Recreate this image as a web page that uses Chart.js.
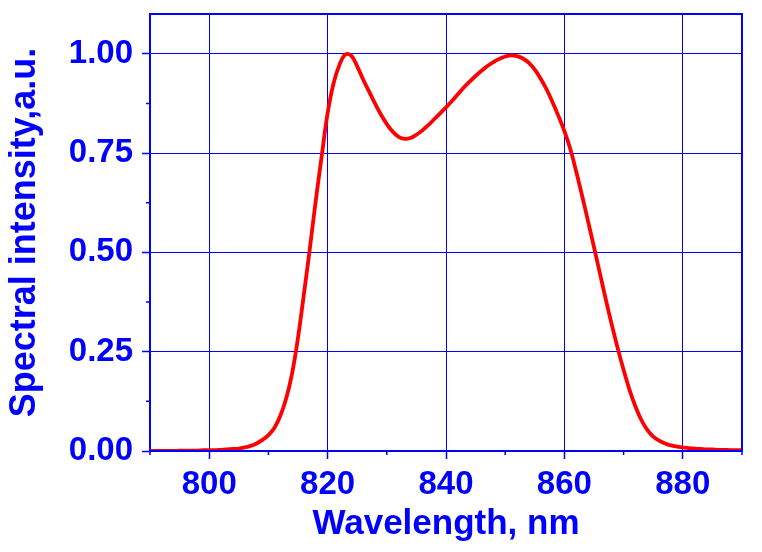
<!DOCTYPE html>
<html>
<head>
<meta charset="utf-8">
<script src="https://cdn.jsdelivr.net/npm/chart.js@4/dist/chart.umd.min.js"></script>
<style>
  html, body { margin: 0; padding: 0; background: #fff; }
  #wrap { width: 762px; height: 552px; }
</style>
</head>
<body>
<div id="wrap"><canvas id="spec"></canvas></div>
<script>
const BLUE = "#0000FF";

// wavelength, nm (1 nm step)
const wavelengths = [
  790, 791, 792, 793, 794, 795, 796, 797, 798, 799,
  800, 801, 802, 803, 804, 805, 806, 807, 808, 809,
  810, 811, 812, 813, 814, 815, 816, 817, 818, 819,
  820, 821, 822, 823, 824, 825, 826, 827, 828, 829,
  830, 831, 832, 833, 834, 835, 836, 837, 838, 839,
  840, 841, 842, 843, 844, 845, 846, 847, 848, 849,
  850, 851, 852, 853, 854, 855, 856, 857, 858, 859,
  860, 861, 862, 863, 864, 865, 866, 867, 868, 869,
  870, 871, 872, 873, 874, 875, 876, 877, 878, 879,
  880, 881, 882, 883, 884, 885, 886, 887, 888, 889,
  890
];

// spectral intensity, a.u.
const intensity = [
  0.000, 0.000, 0.000, 0.000, 0.000, 0.001, 0.001, 0.001, 0.001, 0.002,
  0.002, 0.002, 0.003, 0.004, 0.005, 0.006, 0.009, 0.013, 0.019, 0.028,
  0.040, 0.058, 0.088, 0.132, 0.195, 0.285, 0.395, 0.510, 0.630, 0.742,
  0.850, 0.925, 0.972, 0.998, 0.995, 0.968, 0.935, 0.905, 0.875, 0.847,
  0.823, 0.804, 0.791, 0.786, 0.788, 0.796, 0.807, 0.820, 0.835, 0.850,
  0.865, 0.881, 0.898, 0.915, 0.930, 0.944, 0.957, 0.969, 0.979, 0.987,
  0.993, 0.996, 0.994, 0.988, 0.977, 0.960, 0.937, 0.910, 0.878, 0.843,
  0.805, 0.760, 0.703, 0.642, 0.578, 0.513, 0.447, 0.381, 0.318, 0.259,
  0.204, 0.154, 0.112, 0.078, 0.053, 0.036, 0.026, 0.019, 0.014, 0.011,
  0.009, 0.007, 0.006, 0.005, 0.004, 0.004, 0.003, 0.003, 0.002, 0.002,
  0.002
];

const xTicks = [800, 820, 840, 860, 880];
const xMinorTicks = [790, 810, 830, 850, 870, 890];
const yTicks = [0, 0.25, 0.5, 0.75, 1.0];
const yTickLabels = ["0.00", "0.25", "0.50", "0.75", "1.00"];
const yMinorTicks = [0.125, 0.375, 0.625, 0.875];

const FONT = "'Liberation Sans', Arial, sans-serif";

// frame round the plot area plus the short minor ticks
const frameAndMinor = {
  id: "frameAndMinor",
  afterDraw(chart) {
    const { ctx, chartArea: a, scales } = chart;
    ctx.save();
    ctx.strokeStyle = BLUE;
    ctx.lineWidth = 1.5;
    ctx.beginPath();
    xMinorTicks.forEach(v => {
      const px = scales.x.getPixelForValue(v);
      ctx.moveTo(px, a.bottom);
      ctx.lineTo(px, a.bottom + 4);
    });
    yMinorTicks.forEach(v => {
      const py = scales.y.getPixelForValue(v);
      ctx.moveTo(a.left, py);
      ctx.lineTo(a.left - 4, py);
    });
    ctx.stroke();
    ctx.lineWidth = 2;
    ctx.strokeRect(a.left, a.top, a.right - a.left, a.bottom - a.top);
    ctx.restore();
  }
};

new Chart(document.getElementById("spec"), {
  type: "line",
  data: {
    datasets: [{
      data: wavelengths.map((w, i) => ({ x: w, y: intensity[i] })),
      borderColor: "#FF0000",
      borderWidth: 3.8,
      pointRadius: 0,
      tension: 0.4,
      fill: false,
    }],
  },
  options: {
    responsive: true,
    maintainAspectRatio: false,
    animation: false,
    layout: { padding: { top: 14, right: 20, left: 0, bottom: 0 } },
    plugins: { legend: { display: false }, tooltip: { enabled: false } },
    scales: {
      x: {
        type: "linear",
        min: 790,
        max: 890,
        afterBuildTicks: s => { s.ticks = xTicks.map(v => ({ value: v })); },
        afterFit: s => { s.height = 101; s.paddingLeft = 0; s.paddingRight = 0; },
        grid: { color: BLUE, lineWidth: 1, tickLength: 8, tickColor: BLUE, tickWidth: 1.5 },
        border: { display: false },
        ticks: {
          color: BLUE,
          padding: 6,
          maxRotation: 0,
          autoSkip: false,
          font: { family: FONT, size: 33, weight: "bold" },
          callback: v => String(v),
        },
        title: {
          display: true,
          text: "Wavelength, nm",
          color: BLUE,
          padding: { top: 0, bottom: 7 },
          font: { family: FONT, size: 35, weight: "bold" },
        },
      },
      y: {
        type: "linear",
        min: 0,
        max: 1.1,
        afterBuildTicks: s => { s.ticks = yTicks.map(v => ({ value: v })); },
        afterFit: s => { s.width = 150; s.paddingTop = 0; s.paddingBottom = 0; },
        grid: { color: BLUE, lineWidth: 1, tickLength: 8, tickColor: BLUE, tickWidth: 1.5 },
        border: { display: false },
        ticks: {
          color: BLUE,
          padding: 9,
          autoSkip: false,
          font: { family: FONT, size: 33, weight: "bold" },
          callback: v => yTickLabels[yTicks.indexOf(v)],
        },
        title: {
          display: true,
          text: "Spectral intensity,a.u.",
          color: BLUE,
          padding: { top: 3, bottom: 0 },
          font: { family: FONT, size: 36, weight: "bold" },
        },
      },
    },
  },
  plugins: [frameAndMinor],
});
</script>
</body>
</html>
